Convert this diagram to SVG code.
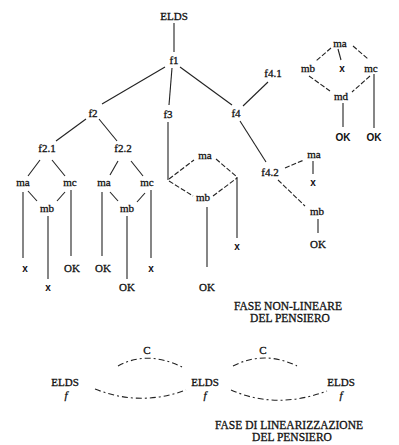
<svg xmlns="http://www.w3.org/2000/svg" width="399" height="445" viewBox="0 0 399 445">
<style>
text{font-family:"Liberation Serif","Times New Roman",serif;font-size:11px;fill:#111;stroke:#111;stroke-width:0.3;text-anchor:middle}
.s{font-family:"Liberation Sans",Arial,sans-serif;font-weight:bold;font-size:10px;stroke-width:0}
.cap{font-size:11.5px}
.f{font-style:italic}
line,path{stroke:#222;stroke-width:1.1;fill:none}
.d{stroke-dasharray:5 2}
.dd{stroke-dasharray:6 3 2 3}
</style>
<rect width="399" height="445" fill="#fff"/>
<g id="connectors">
<line x1="174" y1="23" x2="174" y2="52"/>
<line x1="165" y1="67" x2="102" y2="104"/>
<line x1="172" y1="68" x2="169" y2="105"/>
<line x1="180" y1="67" x2="232" y2="105"/>
<line x1="86" y1="119" x2="56" y2="141"/>
<line x1="99" y1="119" x2="117" y2="141"/>
<line x1="40" y1="160" x2="28" y2="176"/>
<line x1="52" y1="160" x2="65" y2="176"/>
<line x1="28" y1="191" x2="37" y2="201"/>
<line x1="65" y1="192" x2="57" y2="201"/>
<line x1="23" y1="192" x2="23" y2="258"/>
<line x1="48" y1="216" x2="48" y2="279"/>
<line x1="71" y1="190" x2="71" y2="256"/>
<line x1="118" y1="161" x2="110" y2="175"/>
<line x1="131" y1="161" x2="143" y2="176"/>
<line x1="110" y1="192" x2="118" y2="201"/>
<line x1="145" y1="193" x2="137" y2="202"/>
<line x1="102" y1="192" x2="102" y2="256"/>
<line x1="127" y1="216" x2="127" y2="279"/>
<line x1="151" y1="190" x2="151" y2="258"/>
<line x1="168" y1="122" x2="168" y2="180"/>
<line class="d" x1="169" y1="179" x2="194" y2="160"/>
<line class="d" x1="216" y1="159" x2="237" y2="177"/>
<line class="d" x1="169" y1="181" x2="193" y2="196"/>
<line class="d" x1="213" y1="196" x2="237" y2="178"/>
<line x1="237" y1="177" x2="237" y2="238"/>
<line x1="207" y1="207" x2="207" y2="267"/>
<line x1="243" y1="106" x2="268" y2="82"/>
<line x1="240" y1="121" x2="266" y2="162"/>
<line class="d" x1="331" y1="48" x2="316" y2="61"/>
<line x1="338" y1="49" x2="341" y2="60"/>
<line class="d" x1="353" y1="46" x2="368" y2="59"/>
<line class="d" x1="309" y1="76" x2="330" y2="91"/>
<line class="d" x1="370" y1="76" x2="352" y2="92"/>
<line x1="343" y1="103" x2="343" y2="127"/>
<line x1="374" y1="74" x2="374" y2="128"/>
<line class="d" x1="285" y1="168" x2="304" y2="160"/>
<line x1="313" y1="161" x2="313" y2="174"/>
<line class="d" x1="278" y1="180" x2="305" y2="206"/>
<line x1="318" y1="219" x2="318" y2="233"/>
<path class="dd" d="M118,366 Q147,350 182,367"/>
<path class="dd" d="M95,389 Q140,407 186,390"/>
<path class="dd" d="M233,366 Q264,350 297,366"/>
<path class="dd" d="M231,390 Q276,410 327,391"/>
</g>
<g id="n-elds"><text x="174" y="20">ELDS</text></g>
<g id="n-f1"><text x="174" y="64">f1</text></g>
<g id="n-f2"><text x="93" y="117">f2</text></g>
<g id="n-f3"><text x="168" y="118">f3</text></g>
<g id="n-f4"><text x="236" y="117">f4</text></g>
<g id="n-f21"><text x="47" y="152">f2.1</text></g>
<g id="n-f22"><text x="123" y="152">f2.2</text></g>
<g id="n-f21-ma"><text x="23" y="186">ma</text></g>
<g id="n-f21-mc"><text x="70" y="186">mc</text></g>
<g id="n-f21-mb"><text x="47" y="212">mb</text></g>
<g id="n-f21-x1"><text class="s" x="25" y="272">x</text></g>
<g id="n-f21-ok"><text x="72" y="272">OK</text></g>
<g id="n-f21-x2"><text class="s" x="48" y="291">x</text></g>
<g id="n-f22-ma"><text x="104" y="186">ma</text></g>
<g id="n-f22-mc"><text x="147" y="186">mc</text></g>
<g id="n-f22-mb"><text x="127" y="212">mb</text></g>
<g id="n-f22-ok1"><text x="103" y="272">OK</text></g>
<g id="n-f22-x"><text class="s" x="151" y="272">x</text></g>
<g id="n-f22-ok2"><text x="127" y="291">OK</text></g>
<g id="n-f3-ma"><text x="205" y="159">ma</text></g>
<g id="n-f3-mb"><text x="203" y="201">mb</text></g>
<g id="n-f3-x"><text class="s" x="237" y="250">x</text></g>
<g id="n-f3-ok"><text x="207" y="291">OK</text></g>
<g id="n-f41"><text x="273" y="77">f4.1</text></g>
<g id="n-f41-ma"><text x="340" y="47">ma</text></g>
<g id="n-f41-mb"><text x="308" y="72">mb</text></g>
<g id="n-f41-x"><text class="s" x="342" y="72">x</text></g>
<g id="n-f41-mc"><text x="371" y="72">mc</text></g>
<g id="n-f41-md"><text x="341" y="100">md</text></g>
<g id="n-f41-ok1"><text class="s" x="343" y="141">OK</text></g>
<g id="n-f41-ok2"><text class="s" x="374" y="141">OK</text></g>
<g id="n-f42"><text x="270" y="176">f4.2</text></g>
<g id="n-f42-ma"><text x="314" y="158">ma</text></g>
<g id="n-f42-x"><text class="s" x="313" y="186">x</text></g>
<g id="n-f42-mb"><text x="317" y="215">mb</text></g>
<g id="n-f42-ok"><text x="318" y="248">OK</text></g>
<g id="caption-1"><text class="cap" x="288" y="310">FASE NON-LINEARE</text><text class="cap" x="290" y="322">DEL PENSIERO</text></g>
<g id="n-c1"><text x="147" y="354">C</text></g>
<g id="n-c2"><text x="263" y="354">C</text></g>
<g id="n-elds-1"><text x="65" y="386">ELDS</text><text class="f" x="66" y="399">f</text></g>
<g id="n-elds-2"><text x="205" y="386">ELDS</text><text class="f" x="205" y="399">f</text></g>
<g id="n-elds-3"><text x="341" y="386">ELDS</text><text class="f" x="341" y="399">f</text></g>
<g id="caption-2"><text class="cap" x="289" y="429">FASE DI LINEARIZZAZIONE</text><text class="cap" x="292" y="441">DEL PENSIERO</text></g>
</svg>
